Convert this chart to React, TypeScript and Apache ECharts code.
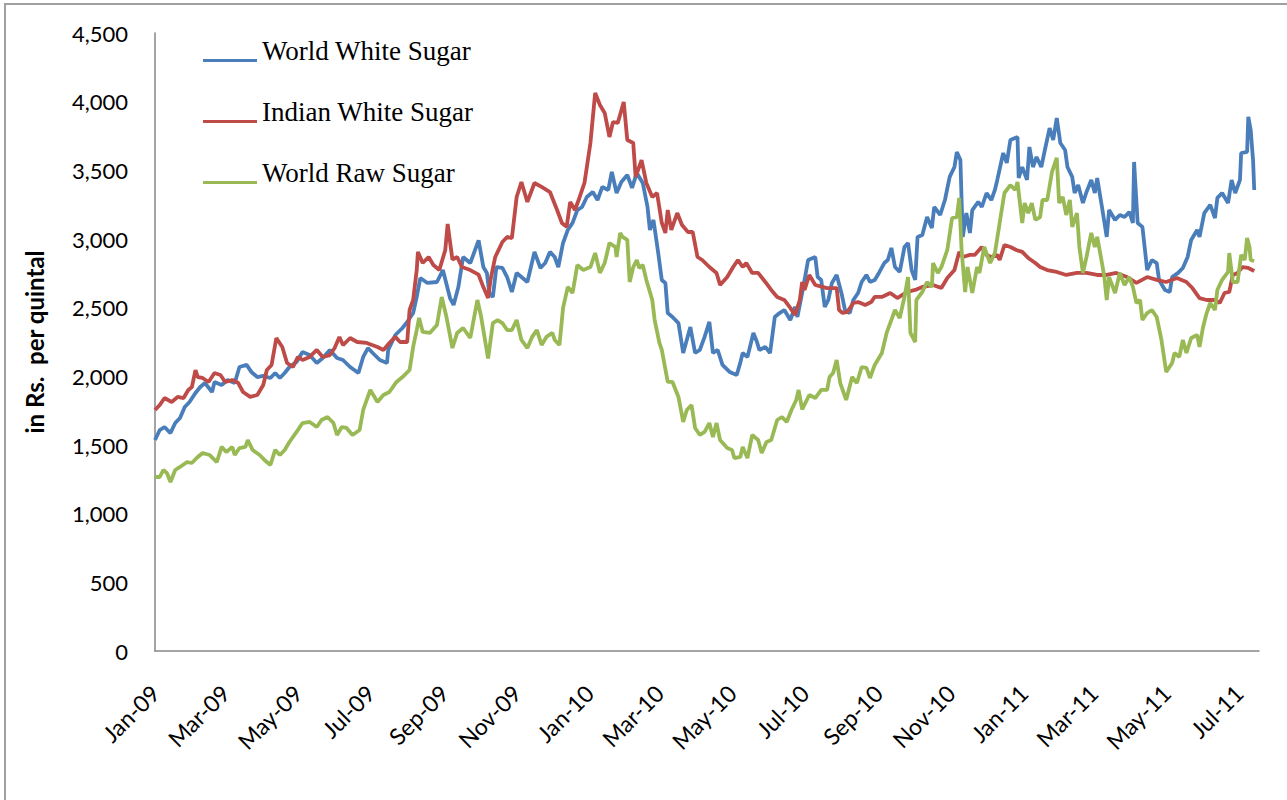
import React, { useEffect, useRef } from 'react';
import * as echarts from 'echarts';

// Daily category axis: 1 Jan 2009 .. 18 Jul 2011
const START_UTC = Date.UTC(2009, 0, 1);
const DAY_COUNT = 929;
const MONTH_NAMES = ['Jan', 'Feb', 'Mar', 'Apr', 'May', 'Jun', 'Jul', 'Aug', 'Sep', 'Oct', 'Nov', 'Dec'];
const SERIES_NAMES = ['World White Sugar', 'Indian White Sugar', 'World Raw Sugar'];
const Y_TICKS = { min: 0, max: 4500, step: 500 };

// [days since 1 Jan 2009, Rs. per quintal]
const worldWhite: [number, number][] = [
  [0,1536],[4,1609],[8,1631],[13,1587],[17,1660],[21,1697],[25,1777],[29,1813],[34,1879],[38,1922],[42,1951],[48,1886],[50,1959],[56,1937],[61,1973],[67,1951],[71,2068],[77,2083],[81,2032],[86,1995],[91,2003],[97,1988],[101,2024],[105,1988],[109,2024],[113,2068],[119,2105],[124,2177],[130,2155],[136,2097],[141,2134],[147,2192],[153,2134],[158,2119],[164,2068],[171,2024],[175,2141],[179,2206],[183,2170],[189,2119],[195,2097],[196,2192],[202,2301],[208,2352],[212,2396],[217,2461],[220,2578],[223,2716],[229,2680],[237,2687],[242,2774],[248,2570],[251,2520],[255,2651],[259,2869],[265,2825],[272,2990],[276,2796],[279,2753],[281,2607],[284,2578],[287,2796],[292,2789],[296,2723],[300,2614],[304,2753],[308,2723],[313,2687],[315,2760],[319,2906],[324,2789],[328,2825],[332,2906],[336,2869],[339,2796],[343,2971],[347,3066],[351,3117],[355,3211],[359,3233],[363,3306],[368,3342],[372,3284],[376,3379],[381,3357],[384,3488],[388,3335],[392,3415],[397,3466],[401,3372],[405,3481],[410,3408],[414,3233],[416,3066],[419,3139],[423,2898],[426,2702],[429,2680],[431,2461],[435,2432],[440,2388],[444,2170],[450,2359],[454,2170],[458,2192],[462,2287],[466,2396],[469,2170],[473,2192],[477,2083],[483,2032],[489,2010],[492,2100],[494,2170],[498,2140],[503,2316],[506,2250],[508,2192],[513,2214],[517,2170],[521,2432],[525,2461],[529,2483],[534,2410],[538,2505],[540,2432],[544,2607],[549,2847],[555,2869],[557,2723],[560,2702],[563,2505],[566,2556],[569,2680],[573,2738],[577,2607],[580,2483],[584,2461],[587,2556],[591,2607],[594,2687],[598,2738],[601,2687],[605,2702],[609,2760],[613,2825],[616,2847],[619,2935],[622,2796],[626,2760],[630,2942],[633,2971],[636,2774],[639,2702],[641,3015],[645,3029],[649,3160],[653,3080],[655,3233],[660,3175],[664,3284],[668,3452],[672,3524],[674,3634],[677,3575],[678,3284],[679,3015],[682,3189],[685,3044],[687,3211],[692,3270],[695,3233],[699,3335],[703,3284],[706,3357],[708,3430],[713,3626],[716,3554],[719,3721],[723,3736],[725,3743],[726,3444],[729,3524],[733,3430],[735,3670],[738,3524],[741,3597],[745,3524],[748,3648],[752,3808],[755,3721],[758,3881],[761,3699],[765,3648],[767,3524],[771,3452],[773,3335],[776,3393],[780,3262],[783,3342],[787,3430],[790,3335],[792,3444],[796,3233],[800,3015],[802,3211],[807,3139],[811,3175],[815,3160],[819,3197],[822,3117],[823,3561],[826,3117],[830,3088],[834,2774],[838,2847],[842,2825],[844,2702],[849,2629],[853,2614],[855,2723],[860,2753],[864,2789],[868,2869],[871,2993],[876,3066],[878,3015],[882,3189],[887,3248],[891,3153],[893,3299],[897,3335],[902,3262],[905,3430],[908,3335],[912,3430],[913,3626],[918,3634],[919,3889],[921,3794],[923,3575],[924,3357]
];

const indianWhite: [number, number][] = [
  [0,1755],[4,1791],[8,1842],[14,1813],[19,1850],[24,1842],[28,1901],[31,1922],[34,2046],[36,1995],[40,1988],[45,1959],[50,2024],[55,2010],[59,1959],[65,1973],[70,1951],[74,1886],[80,1850],[86,1864],[91,1937],[94,2046],[98,2083],[102,2279],[107,2214],[111,2097],[116,2068],[120,2141],[124,2119],[130,2141],[136,2192],[141,2141],[147,2155],[151,2206],[155,2287],[158,2228],[164,2279],[170,2250],[178,2243],[187,2214],[192,2192],[197,2243],[202,2287],[206,2250],[212,2250],[214,2483],[217,2556],[220,2774],[221,2906],[225,2825],[230,2869],[234,2811],[239,2774],[244,2920],[246,3110],[250,2850],[254,2869],[258,2796],[265,2774],[272,2740],[276,2650],[280,2570],[282,2700],[286,2869],[292,2978],[296,3015],[300,3007],[304,3306],[308,3415],[313,3270],[319,3408],[325,3379],[332,3342],[338,3211],[342,3117],[346,3088],[349,3270],[353,3211],[357,3306],[361,3408],[366,3699],[370,4063],[374,3976],[378,3918],[382,3743],[385,3852],[389,3845],[394,3998],[397,3721],[402,3699],[404,3452],[409,3575],[413,3408],[418,3306],[422,3335],[426,3117],[429,3044],[431,3211],[434,3066],[439,3189],[443,3102],[448,3051],[452,3051],[456,2869],[460,2847],[466,2796],[472,2753],[475,2665],[481,2723],[486,2796],[490,2847],[494,2796],[497,2825],[502,2753],[507,2753],[513,2687],[518,2629],[523,2578],[529,2556],[534,2498],[538,2447],[542,2556],[544,2687],[546,2629],[550,2738],[555,2665],[561,2651],[565,2643],[573,2643],[575,2483],[578,2461],[582,2469],[587,2534],[591,2541],[597,2520],[602,2541],[605,2578],[611,2578],[618,2607],[624,2570],[632,2614],[639,2629],[645,2651],[654,2665],[661,2643],[666,2716],[672,2774],[676,2906],[679,2869],[685,2884],[689,2884],[695,2942],[699,2884],[703,2869],[708,2884],[710,2847],[714,2956],[719,2942],[724,2920],[729,2906],[734,2862],[740,2825],[744,2796],[750,2774],[758,2760],[766,2738],[775,2753],[783,2753],[792,2738],[800,2738],[808,2753],[817,2723],[825,2680],[834,2723],[842,2702],[850,2687],[859,2716],[867,2687],[872,2643],[878,2570],[884,2556],[891,2556],[895,2534],[899,2607],[903,2614],[906,2738],[910,2753],[914,2796],[919,2789],[924,2767]
];

const worldRaw: [number, number][] = [
  [0,1267],[4,1267],[7,1318],[10,1296],[13,1231],[17,1318],[21,1340],[27,1376],[31,1369],[35,1405],[40,1442],[46,1427],[52,1376],[56,1486],[60,1449],[65,1486],[67,1427],[71,1478],[76,1486],[78,1536],[82,1464],[88,1427],[92,1391],[97,1354],[101,1464],[105,1427],[109,1464],[113,1522],[119,1595],[124,1660],[130,1668],[136,1631],[140,1682],[145,1704],[150,1660],[153,1573],[157,1631],[161,1624],[166,1573],[172,1609],[175,1755],[181,1901],[187,1813],[192,1864],[197,1886],[203,1959],[208,1995],[214,2046],[217,2214],[220,2337],[222,2425],[225,2323],[231,2316],[237,2374],[241,2578],[245,2432],[250,2206],[254,2316],[259,2352],[265,2279],[271,2556],[274,2440],[280,2130],[284,2388],[288,2410],[292,2388],[296,2337],[300,2337],[304,2410],[308,2265],[313,2206],[317,2287],[321,2337],[325,2228],[329,2287],[334,2316],[336,2265],[340,2228],[343,2498],[347,2651],[351,2607],[355,2811],[360,2774],[366,2796],[370,2898],[374,2753],[378,2825],[382,2971],[387,2942],[388,2869],[391,3044],[393,3015],[397,2993],[399,2687],[402,2796],[405,2847],[407,2789],[410,2811],[413,2702],[418,2556],[420,2410],[424,2243],[426,2192],[431,1959],[435,1959],[440,1850],[444,1668],[447,1755],[451,1791],[454,1624],[458,1573],[462,1595],[466,1660],[469,1558],[472,1660],[475,1536],[481,1478],[485,1464],[487,1405],[492,1413],[494,1486],[498,1405],[502,1573],[507,1536],[510,1442],[514,1522],[518,1536],[523,1682],[527,1704],[531,1668],[535,1755],[539,1828],[541,1900],[544,1760],[550,1864],[555,1842],[560,1901],[565,1901],[567,1995],[570,2024],[573,2119],[576,1951],[581,1828],[586,1995],[590,1951],[594,2068],[598,2061],[601,1988],[605,2083],[611,2170],[615,2316],[618,2388],[622,2483],[626,2425],[630,2578],[633,2723],[635,2316],[639,2250],[640,2556],[645,2614],[649,2687],[653,2651],[654,2825],[658,2753],[661,2796],[666,2920],[670,3153],[674,3160],[676,3299],[678,2920],[681,2614],[683,2796],[687,2607],[691,2796],[693,2753],[697,2942],[702,2825],[706,2898],[710,3117],[714,3335],[719,3393],[723,3357],[725,3415],[729,3117],[731,3262],[734,3189],[737,3262],[740,3139],[744,3160],[746,3284],[750,3284],[754,3488],[758,3590],[760,3262],[763,3306],[766,3175],[769,3284],[771,3088],[775,3189],[777,2942],[780,2753],[783,2869],[787,3044],[790,2942],[792,3015],[796,2825],[798,2723],[800,2556],[802,2723],[807,2607],[811,2753],[815,2665],[819,2723],[822,2651],[825,2534],[828,2556],[830,2410],[834,2461],[838,2483],[842,2432],[846,2265],[850,2032],[855,2097],[857,2170],[861,2141],[864,2265],[867,2170],[871,2279],[876,2301],[878,2214],[881,2359],[884,2461],[887,2534],[891,2483],[893,2629],[897,2702],[902,2760],[903,2898],[906,2687],[910,2687],[913,2884],[916,2847],[918,3007],[920,2942],[921,2847],[924,2840]
];

const COLORS = ['#4a7ebb', '#be4b48', '#98b954'];

// Legend key: a short line drawn near the bottom of the key box (tiny invisible sliver keeps the box height)
const LEGEND_ICON = 'path://M0,0 L54,0 L54,0.01 L0,0.01 Z M0,20 L54,20 L54,23 L0,23 Z';

function dayLabel(i: number): string {
  return new Date(START_UTC + i * 86400000).toISOString().slice(0, 10);
}

export default function App() {
  const ref = useRef<HTMLDivElement>(null);

  useEffect(() => {
    if (!ref.current) return;
    const chart = echarts.init(ref.current, undefined, { renderer: 'svg' });
    const categories = Array.from({ length: DAY_COUNT }, (_, i) => dayLabel(i));
    const seriesData = [worldWhite, indianWhite, worldRaw];

    chart.setOption({
      animation: false,
      backgroundColor: '#ffffff',
      graphic: [
        {
          type: 'rect',
          silent: true,
          shape: { x: 5, y: 4, width: 1300, height: 820 },
          style: { fill: 'none', stroke: '#a0a0a0', lineWidth: 2 },
        },
      ],
      grid: { left: 155, right: 28, top: 33, bottom: 149, containLabel: false },
      legend: {
        orient: 'vertical',
        left: 203,
        top: 37,
        padding: 0,
        itemWidth: 54,
        itemHeight: 23,
        itemGap: 34,
        icon: LEGEND_ICON,
        selectedMode: false,
        textStyle: {
          fontFamily: 'Liberation Serif',
          fontSize: 27,
          color: '#000',
        },
        data: SERIES_NAMES,
      },
      xAxis: {
        type: 'category',
        boundaryGap: false,
        data: categories,
        axisLine: { show: true, lineStyle: { color: '#868686', width: 1.5 } },
        axisTick: { show: false },
        splitLine: { show: false },
        axisLabel: {
          rotate: 45,
          margin: 38,
          fontFamily: 'Lato',
          fontSize: 23,
          color: '#000',
          interval: (_index: number, value: string) =>
            value.slice(8, 10) === '01' && parseInt(value.slice(5, 7), 10) % 2 === 1,
          formatter: (value: string) =>
            MONTH_NAMES[parseInt(value.slice(5, 7), 10) - 1] + '-' + value.slice(2, 4),
        },
      },
      yAxis: {
        type: 'value',
        min: Y_TICKS.min,
        max: Y_TICKS.max,
        interval: Y_TICKS.step,
        name: 'in Rs.  per quintal',
        nameLocation: 'middle',
        nameRotate: 90,
        nameGap: 109,
        nameTextStyle: { fontFamily: 'Lato', fontWeight: 'bold', fontSize: 24, color: '#000' },
        axisLine: { show: true, lineStyle: { color: '#868686', width: 1.5 } },
        axisTick: { show: false },
        splitLine: { show: false },
        axisLabel: {
          margin: 27,
          fontFamily: 'Lato',
          fontSize: 22,
          color: '#000',
          formatter: (v: number) => v.toLocaleString('en-US'),
        },
      },
      series: SERIES_NAMES.map((name, k) => ({
        name,
        type: 'line',
        data: seriesData[k],
        showSymbol: false,
        symbol: 'none',
        smooth: false,
        color: COLORS[k],
        lineStyle: { color: COLORS[k], width: 3.8 },
        emphasis: { disabled: true },
      })),
    });

    return () => {
      chart.dispose();
    };
  }, []);

  return (
    <div
      ref={ref}
      style={{ position: 'absolute', left: 0, top: 0, width: 1287, height: 800, background: '#fff' }}
    />
  );
}
